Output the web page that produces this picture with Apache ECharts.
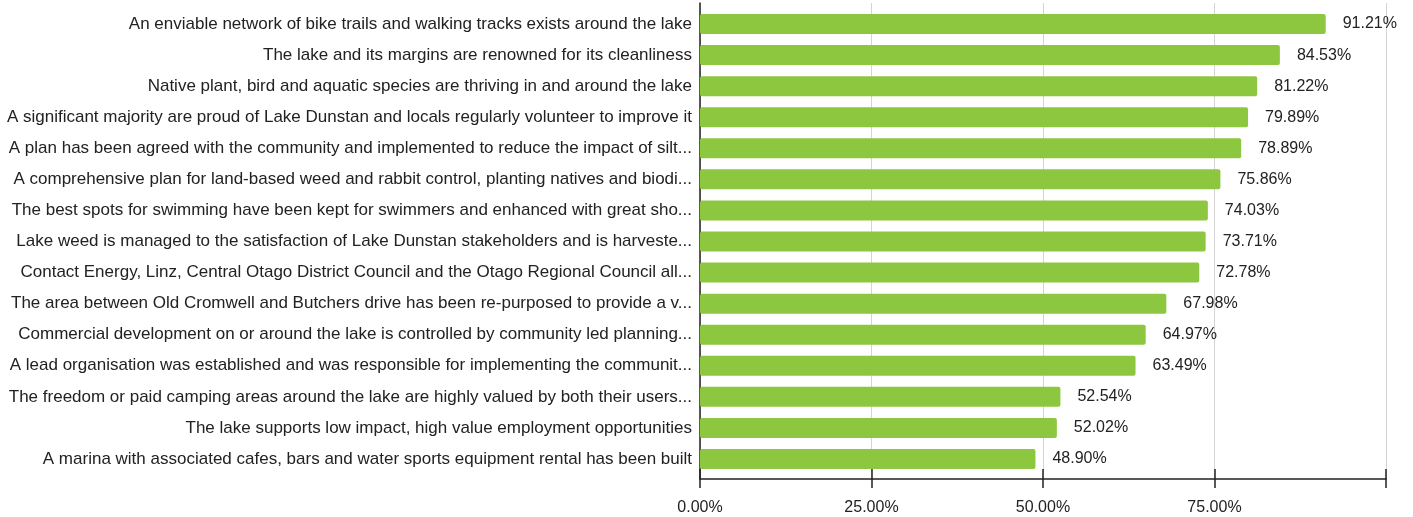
<!DOCTYPE html>
<html><head><meta charset="utf-8">
<script src="https://cdn.jsdelivr.net/npm/echarts@6/dist/echarts.min.js"></script>
<style>html,body{margin:0;padding:0;background:#fff}#c{width:1413px;height:517px}</style>
</head><body><div id="c"></div>
<script>
const categories = [
  "An enviable network of bike trails and walking tracks exists around the lake",
  "The lake and its margins are renowned for its cleanliness",
  "Native plant, bird and aquatic species are thriving in and around the lake",
  "A significant majority are proud of Lake Dunstan and locals regularly volunteer to improve it",
  "A plan has been agreed with the community and implemented to reduce the impact of silt...",
  "A comprehensive plan for land-based weed and rabbit control, planting natives and biodi...",
  "The best spots for swimming have been kept for swimmers and enhanced with great sho...",
  "Lake weed is managed to the satisfaction of Lake Dunstan stakeholders and is harveste...",
  "Contact Energy, Linz, Central Otago District Council and the Otago Regional Council all...",
  "The area between Old Cromwell and Butchers drive has been re-purposed to provide a v...",
  "Commercial development on or around the lake is controlled by community led planning...",
  "A lead organisation was established and was responsible for implementing the communit...",
  "The freedom or paid camping areas around the lake are highly valued by both their users...",
  "The lake supports low impact, high value employment opportunities",
  "A marina with associated cafes, bars and water sports equipment rental has been built"
];
const values = [91.21, 84.53, 81.22, 79.89, 78.89, 75.86, 74.03, 73.71, 72.78, 67.98, 64.97, 63.49, 52.54, 52.02, 48.90];
const tickValues = [0, 25, 50, 75, 100];
const tickLabels = ["0.00%", "25.00%", "50.00%", "75.00%", ""];

const font = "'Liberation Sans', Arial, sans-serif";
const ink = '#222';
const chart = echarts.init(document.getElementById('c'));
chart.setOption({
  animation: false,
  grid: [
    {left: 700, right: 27, top: 3, bottom: 38},
    {left: 700, right: 27, top: 8.5, bottom: 42.5}
  ],
  xAxis: [{
    gridIndex: 0, type: 'value', min: 0, max: 100, interval: 25,
    axisLine: {show: true, lineStyle: {color: ink, width: 1.5}},
    axisTick: {show: true, length: 9, lineStyle: {color: ink, width: 1.5}},
    axisLabel: {color: ink, fontSize: 16, fontFamily: font, margin: 21,
      formatter: v => tickLabels[tickValues.indexOf(v)] ?? ''},
    splitLine: {show: true, lineStyle: {color: '#d4d4d4', width: 1}}
  }, {
    gridIndex: 0, type: 'value', min: 0, max: 100, interval: 25, position: 'bottom',
    axisLine: {show: false},
    axisTick: {show: true, inside: true, length: 10, lineStyle: {color: ink, width: 1.5}},
    axisLabel: {show: false}, splitLine: {show: false}
  }, {
    gridIndex: 1, type: 'value', min: 0, max: 100, show: false
  }],
  yAxis: [{
    gridIndex: 0, type: 'value', min: 0, max: 1,
    axisLine: {show: true, lineStyle: {color: ink, width: 1.5}},
    axisTick: {show: false}, axisLabel: {show: false}, splitLine: {show: false}
  }, {
    gridIndex: 1, type: 'category', data: categories, inverse: true,
    axisLine: {show: false},
    axisTick: {show: false},
    axisLabel: {color: ink, fontSize: 17, fontFamily: font, margin: 8}
  }],
  series: [{
    type: 'bar', xAxisIndex: 2, yAxisIndex: 1, data: values, barWidth: 20,
    itemStyle: {color: '#8dc63f', borderRadius: 2},
    label: {show: true, position: 'right', distance: 17, color: ink, fontSize: 16, fontFamily: font,
      formatter: p => p.value.toFixed(2) + '%'}
  }]
});
</script></body></html>
